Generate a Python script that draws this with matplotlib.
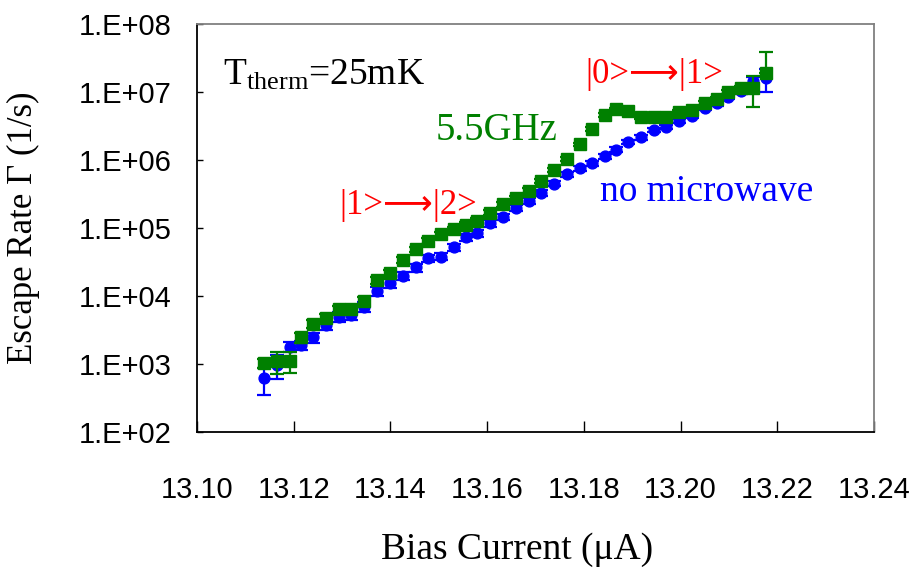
import numpy as np
import matplotlib.pyplot as plt
from matplotlib.ticker import FixedLocator, FuncFormatter

plt.rcParams['mathtext.fontset'] = 'custom'
plt.rcParams['mathtext.rm'] = 'Liberation Serif'

# bias current (uA), shared by both series
bias = [13.1139, 13.1165, 13.1192, 13.1215, 13.1240, 13.1267, 13.1294, 13.1318,
        13.1345, 13.1372, 13.1399, 13.1426, 13.1453, 13.1478, 13.1505, 13.1532,
        13.1556, 13.1579, 13.1606, 13.1633, 13.1660, 13.1687, 13.1711, 13.1738,
        13.1765, 13.1792, 13.1817, 13.1844, 13.1867, 13.1891, 13.1918, 13.1945,
        13.1970, 13.1997, 13.2024, 13.2051, 13.2075, 13.2098, 13.2125, 13.2150,
        13.2177]

# escape rate without microwave (1/s)
rate_off = [617, 966, 1.80e3, 1.90e3, 2.47e3, 3.75e3, 4.97e3, 5.26e3, 6.97e3,
            1.19e4, 1.54e4, 1.97e4, 2.64e4, 3.58e4, 3.79e4, 5.20e4, 7.30e4,
            8.36e4, 1.17e5, 1.47e5, 1.95e5, 2.52e5, 3.30e5, 4.51e5, 6.12e5,
            7.55e5, 8.89e5, 1.13e6, 1.42e6, 1.83e6, 2.16e6, 2.76e6, 3.03e6,
            3.79e6, 4.44e6, 5.75e6, 6.82e6, 8.54e6, 1.04e7, 1.45e7, 1.61e7]
err_off = [270, 370, 300, 300, 400, 600, 800, 800, 1100, 1800, 2200, 2800, 3500,
           4500, 4500, 6000, 8000, 9000, 1.2e4, 1.5e4, 2e4, 2.5e4, 3.2e4, 4.2e4,
           5.5e4, 6.5e4, 7.5e4, 9e4, 1.1e5, 1.4e5, 1.6e5, 2e5, 2.2e5, 2.7e5,
           3.2e5, 4e5, 5e5, 7e5, 1e6, 2e6, 6e6]

# escape rate with 5.5 GHz microwave (1/s)
rate_on = [1.02e3, 1.11e3, 1.11e3, 2.47e3, 3.87e3, 4.80e3, 6.37e3, 6.37e3,
           8.53e3, 1.72e4, 2.16e4, 3.38e4, 4.86e4, 6.51e4, 8.16e4, 9.57e4,
           1.11e5, 1.28e5, 1.68e5, 2.22e5, 2.74e5, 3.54e5, 4.91e5, 7.06e5,
           1.02e6, 1.69e6, 2.83e6, 4.59e6, 5.57e6, 5.26e6, 4.34e6, 4.34e6,
           4.34e6, 5.13e6, 5.43e6, 6.82e6, 7.81e6, 1.01e7, 1.13e7, 1.16e7, 1.90e7]
err_on_lo = [150, 400, 380, 400, 500, 600, 800, 800, 1000, 2000, 2500, 3500,
             4500, 6000, 7000, 8000, 1e4, 1.1e4, 1.4e4, 1.8e4, 2.2e4, 2.8e4,
             3.8e4, 5e4, 7e4, 1.1e5, 1.8e5, 2.8e5, 3.3e5, 3.2e5, 2.8e5, 2.8e5,
             2.8e5, 3.2e5, 3.5e5, 4.5e5, 5e5, 7e5, 8e5, 5.5e6, 0]
err_on_hi = [150, 400, 380, 400, 500, 600, 800, 800, 1000, 2000, 2500, 3500,
             4500, 6000, 7000, 8000, 1e4, 1.1e4, 1.4e4, 1.8e4, 2.2e4, 2.8e4,
             3.8e4, 5e4, 7e4, 1.1e5, 1.8e5, 2.8e5, 3.3e5, 3.2e5, 2.8e5, 2.8e5,
             2.8e5, 3.2e5, 3.5e5, 4.5e5, 5e5, 7e5, 8e5, 5.5e6, 1.94e7]

x_ticks = [13.10, 13.12, 13.14, 13.16, 13.18, 13.20, 13.22, 13.24]
y_ticks = [1e2, 1e3, 1e4, 1e5, 1e6, 1e7, 1e8]

serif = ['Liberation Serif', 'DejaVu Sans']
sans = ['Liberation Sans', 'DejaVu Sans']


def main():
    fig = plt.figure(figsize=(9.17, 5.75), dpi=100)
    ax = fig.add_axes([0.2148, 0.2487, 0.7383, 0.7096])

    ax.errorbar(bias, rate_off, yerr=err_off, fmt='o', color='#0000FF',
                ms=7.8, elinewidth=1.6, capsize=5, capthick=1.6, zorder=2)
    ax.errorbar(bias, rate_on, yerr=[err_on_lo, err_on_hi], fmt='s',
                color='#008000', ms=8.5, elinewidth=1.6, capsize=5,
                capthick=1.6, zorder=3)

    ax.set_yscale('log')
    ax.set_xlim(13.10, 13.24)
    ax.set_ylim(1e2, 1e8)
    ax.xaxis.set_major_locator(FixedLocator(x_ticks))
    ax.yaxis.set_major_locator(FixedLocator(y_ticks))
    ax.yaxis.set_minor_locator(FixedLocator([]))
    ax.xaxis.set_major_formatter(FuncFormatter(lambda v, p: f'{v:.2f}'))
    ax.yaxis.set_major_formatter(
        FuncFormatter(lambda v, p: f'1.E+{int(round(np.log10(v))):02d}'))

    ax.tick_params(axis='x', direction='in', length=8, width=1, pad=32)
    ax.tick_params(axis='y', direction='in', length=4, width=1, pad=18)
    for lab in ax.get_xticklabels() + ax.get_yticklabels():
        lab.set_fontfamily(sans)
        lab.set_fontsize(21)

    for side in ['left', 'bottom']:
        ax.spines[side].set_color('black')
        ax.spines[side].set_linewidth(1.3)
    for side in ['top', 'right']:
        ax.spines[side].set_color('#808080')
        ax.spines[side].set_linewidth(1.3)

    ax.set_xlabel('Bias Current (\u03bcA)', family=serif, fontsize=27, labelpad=20)
    ax.xaxis.label.set_x(0.473)
    ax.set_ylabel('Escape Rate \u0393 (1/s)', family=serif, fontsize=25, labelpad=28)

    ax.text(0.038, 0.875, r'$\mathrm{T_{therm}}$=25mK', transform=ax.transAxes,
            family=serif, fontsize=27, va='center', ha='left', color='black')
    ax.text(0.353, 0.738, '5.5GHz', transform=ax.transAxes, family=serif,
            fontsize=28, va='center', ha='left', color='#008000')
    ax.text(0.211, 0.556, '|1>\u27f6|2>', transform=ax.transAxes, family=serif,
            fontsize=25, va='center', ha='left', color='#FF0000')
    ax.text(0.573, 0.875, '|0>\u27f6|1>', transform=ax.transAxes, family=serif,
            fontsize=25, va='center', ha='left', color='#FF0000')
    ax.text(0.595, 0.588, 'no microwave', transform=ax.transAxes, family=serif,
            fontsize=27, va='center', ha='left', color='#0000FF')

    fig.savefig('out.png', dpi=100)


if __name__ == '__main__':
    main()
